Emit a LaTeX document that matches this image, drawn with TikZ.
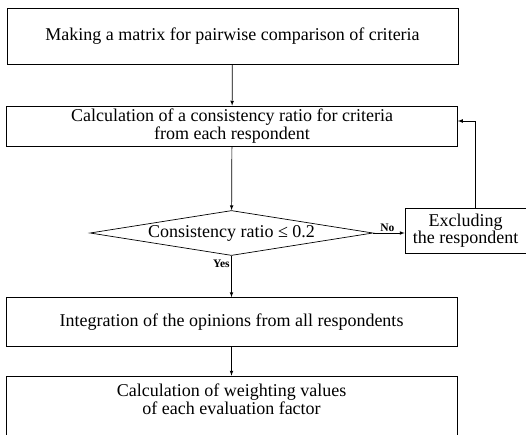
\documentclass[tikz,border=0pt]{standalone}
\usepackage{fontspec}
\setmainfont{Liberation Serif}
\usetikzlibrary{shapes.geometric, positioning}

\begin{document}
\begin{tikzpicture}[x=1pt, y=-1pt, >=latex, line width=0.7pt,
    box/.style={draw, minimum width=451pt, inner sep=0pt, align=center,
        font=\fontsize{18}{15.5}\selectfont},
    test/.style={draw, diamond, aspect=6.2, inner sep=0pt, minimum width=283pt,
        minimum height=45pt, font=\fontsize{18}{15.5}\selectfont},
    lbl/.style={font=\fontsize{11.5}{13}\selectfont\bfseries, inner sep=1.5pt}]
    \useasboundingbox (0,0) rectangle (526,434);
    \clip (0,0) rectangle (526,434);

    % 1. Các khối
    \node[box, minimum height=56pt] (matrix) at (232.5,36)
        {Making a matrix for pairwise comparison of criteria};
    \node[box, minimum height=40pt] (consist) at (232,126)
        {Calculation of a consistency ratio for criteria\\from each respondent};
    \node[test] (check) at (231.5,233) {Consistency ratio ≤ 0.2};
    \node[box, minimum width=121pt, minimum height=45pt] (exclude) at (465.5,230.5)
        {Excluding\\the respondent};
    \node[box, minimum height=49pt] (integrate) at (231.5,322)
        {Integration of the opinions from all respondents};
    \node[box, minimum height=80pt] (weighting) at (231.5,416) {};
    \node[align=center, inner sep=0pt, font=\fontsize{18}{15.5}\selectfont]
        (weightingtext) at (231.5,399)
        {Calculation of weighting values\\of each evaluation factor};

    % 2. Các mũi tên
    \draw[->] (check.east) -- (check.east -| exclude.west) node[pos=0.45, above, lbl] {No};
    \draw[->] (matrix) -- (consist);
    \draw[->] (consist) -- (check);
    \draw[->] (check) -- node[left, lbl, pos=0.2] {Yes} (integrate);
    \draw[->] ([xshift=9.5pt]exclude.north) |- ([yshift=5pt]consist.east);
    \draw[->] (integrate) -- (weighting);

\end{tikzpicture}
\end{document}
